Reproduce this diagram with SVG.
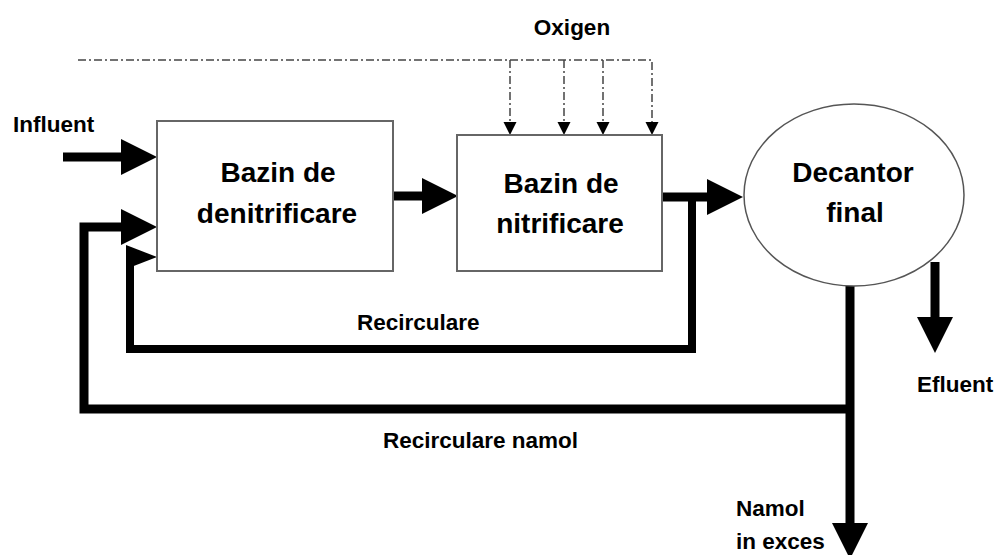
<svg xmlns="http://www.w3.org/2000/svg" width="997" height="555" viewBox="0 0 997 555">
  <style>
    text { font-family: "Liberation Sans", Arial, sans-serif; font-weight: bold; fill: #000; }
    .lbl { font-size: 22.5px; }
    .big { font-size: 28px; text-anchor: middle; }
    .box { fill: #fff; stroke: #666; stroke-width: 2; }
    .tank { fill: #fff; stroke: #555; stroke-width: 1.5; }
    .flow { fill: none; stroke: #000; stroke-width: 9; stroke-linejoin: miter; }
    .thin { fill: none; stroke: #000; stroke-width: 8; stroke-linejoin: miter; }
    .air { fill: none; stroke: #444; stroke-width: 1.5; stroke-dasharray: 8 3 2 3; }
  </style>
  <defs>
    <marker id="head" markerUnits="userSpaceOnUse" markerWidth="37" markerHeight="37" refX="0" refY="18" orient="auto" overflow="visible">
      <path d="M0,0 L36,18 L0,36 Z" fill="#000"/>
    </marker>
    <marker id="airhead" markerUnits="userSpaceOnUse" markerWidth="14" markerHeight="14" refX="0" refY="6.5" orient="auto" overflow="visible">
      <path d="M0,0 L13,6.5 L0,13 Z" fill="#000"/>
    </marker>
  </defs>

  <!-- flow lines -->
  <g id="connectors">
    <!-- oxygen supply manifold -->
    <path class="air" d="M78,60 H652 V122" marker-end="url(#airhead)"/>
    <path class="air" d="M510,60 V122" marker-end="url(#airhead)"/>
    <path class="air" d="M564,60 V122" marker-end="url(#airhead)"/>
    <path class="air" d="M603,60 V122" marker-end="url(#airhead)"/>

    <!-- influent -->
    <path class="flow" d="M63,157 H121" marker-end="url(#head)"/>
    <!-- denitrification to nitrification -->
    <path class="flow" d="M393,196 H422" marker-end="url(#head)"/>
    <!-- nitrification to clarifier -->
    <path class="flow" d="M662,197 H707" marker-end="url(#head)"/>
    <!-- internal recirculation -->
    <path class="thin" d="M692,197 V349 H130 V250"/>
    <path d="M126,245 L157,257 L126,269 Z" fill="#000"/>
    <!-- return sludge -->
    <path class="flow" d="M850,409 H84 V227 H121" marker-end="url(#head)"/>
    <!-- effluent -->
    <path class="flow" d="M935,262 V317" marker-end="url(#head)"/>
    <!-- excess sludge -->
    <path class="flow" d="M850,286 V523" marker-end="url(#head)"/>
  </g>

  <g id="denitrificare">
    <rect class="box" x="157" y="121" width="236" height="150"/>
    <text class="big" x="278" y="182">Bazin de</text>
    <text class="big" x="277" y="223">denitrificare</text>
  </g>

  <g id="nitrificare">
    <rect class="box" x="457" y="135" width="205" height="136"/>
    <text class="big" x="561" y="193">Bazin de</text>
    <text class="big" x="560" y="233">nitrificare</text>
  </g>

  <g id="decantor">
    <ellipse class="tank" cx="854" cy="195" rx="110" ry="91"/>
    <text class="big" x="853" y="182">Decantor</text>
    <text class="big" x="855" y="222">final</text>
  </g>

  <g id="labels">
    <text class="lbl" x="572" y="35" text-anchor="middle">Oxigen</text>
    <text class="lbl" x="13" y="132">Influent</text>
    <text class="lbl" x="357" y="330">Recirculare</text>
    <text class="lbl" x="383" y="448">Recirculare namol</text>
    <text class="lbl" x="917" y="392">Efluent</text>
    <text class="lbl" x="736" y="516">Namol</text>
    <text class="lbl" x="736" y="549">in exces</text>
  </g>
</svg>
